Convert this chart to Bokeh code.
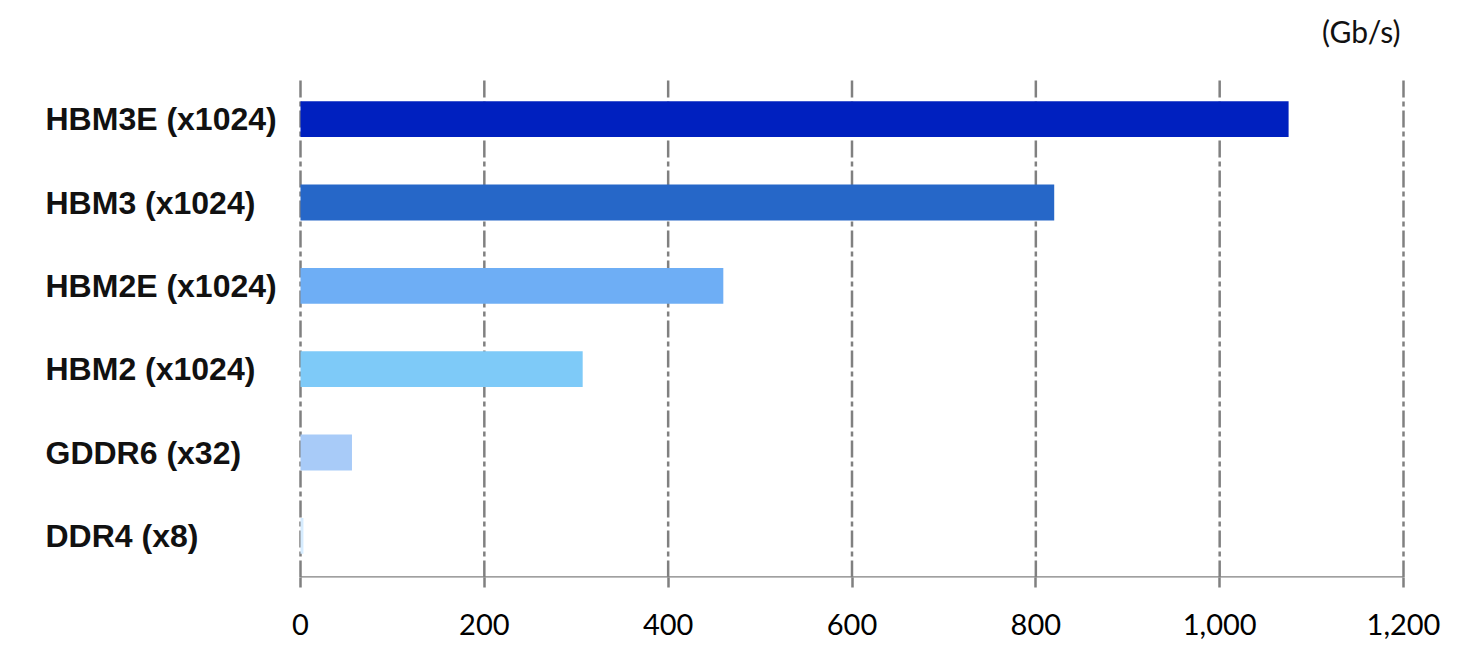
from bokeh.plotting import figure
from bokeh.models import Range1d, FixedTicker, NumeralTickFormatter
from bokeh.core.properties import value
from bokeh.embed import file_html
from bokeh.resources import INLINE

categories = ["HBM3E (x1024)", "HBM3 (x1024)", "HBM2E (x1024)", "HBM2 (x1024)", "GDDR6 (x32)", "DDR4 (x8)"]
bandwidth = [1075, 820, 460, 307, 56, 3.2]
bar_colors = ["#0020BF", "#2667C8", "#6EAEF5", "#7ECAF8", "#A8CBF8", "#D6ECFF"]
x_ticks = [0, 200, 400, 600, 800, 1000, 1200]
unit_label = "(Gb/s)"

n = len(categories)
ypos = [n - 1 - i for i in range(n)]

# layout in pixels
W, H = 1460, 660
frame_l, frame_r, frame_t, frame_b = 10, 1450, 5, 577
axis_l, axis_r, cat_top = 300, 1403, 77
label_px = 45
unit_px_y = 30

xmin, xmax = x_ticks[0], x_ticks[-1]
sx = (axis_r - axis_l) / (xmax - xmin)
sy = (frame_b - cat_top) / n
x_start = xmin - (axis_l - frame_l) / sx
x_end = xmax + (frame_r - axis_r) / sx
y_bot = -0.5
y_top = n - 0.5 + (cat_top - frame_t) / sy

p = figure(width=W, height=H,
           x_range=Range1d(x_start, x_end), y_range=Range1d(y_bot, y_top),
           output_backend="svg", toolbar_location=None,
           min_border_left=frame_l, min_border_right=W - frame_r,
           min_border_top=frame_t, min_border_bottom=H - frame_b)
p.outline_line_color = None
p.grid.grid_line_color = None
p.yaxis.visible = False

# dashed vertical gridlines (drawn under bars)
p.segment(x0=x_ticks, y0=[y_bot] * len(x_ticks), x1=x_ticks, y1=[n - 0.5] * len(x_ticks),
          line_color="#808080", line_width=2.5, line_dash="17 4 5 4")
# axis baseline over the tick range only
p.segment(x0=[xmin], y0=[y_bot], x1=[xmax], y1=[y_bot], line_color="#808080", line_width=2.5)

p.hbar(y=ypos, left=0, right=bandwidth, height=0.43, fill_color=bar_colors, line_color=None)

p.xaxis.ticker = FixedTicker(ticks=x_ticks)
p.xaxis.formatter = NumeralTickFormatter(format="0,0")
p.xaxis.axis_line_color = None
p.xaxis.major_tick_line_color = "#808080"
p.xaxis.major_tick_line_width = 2.5
p.xaxis.major_tick_in = 0
p.xaxis.major_tick_out = 10
p.xaxis.minor_tick_line_color = None
p.xaxis.major_label_text_font = "Lato"
p.xaxis.major_label_text_font_size = "29px"
p.xaxis.major_label_text_color = "black"
p.xaxis.major_label_standoff = 26

# category labels (left-aligned)
label_x = xmin - (axis_l - label_px) / sx
p.text(x=[label_x] * n, y=ypos, text=categories, text_align="left", text_baseline="middle",
       text_font=value("Liberation Sans"), text_font_style="bold", text_font_size="32px",
       text_color="#111111")

# unit label
p.text(x=[xmax], y=[n - 0.5 + (cat_top - unit_px_y) / sy], text=[unit_label], x_offset=-3,
       text_align="right", text_baseline="middle", text_font=value("Lato"),
       text_font_size="30px", text_color="#111111")

open("out.html", "w").write(file_html(p, INLINE))
